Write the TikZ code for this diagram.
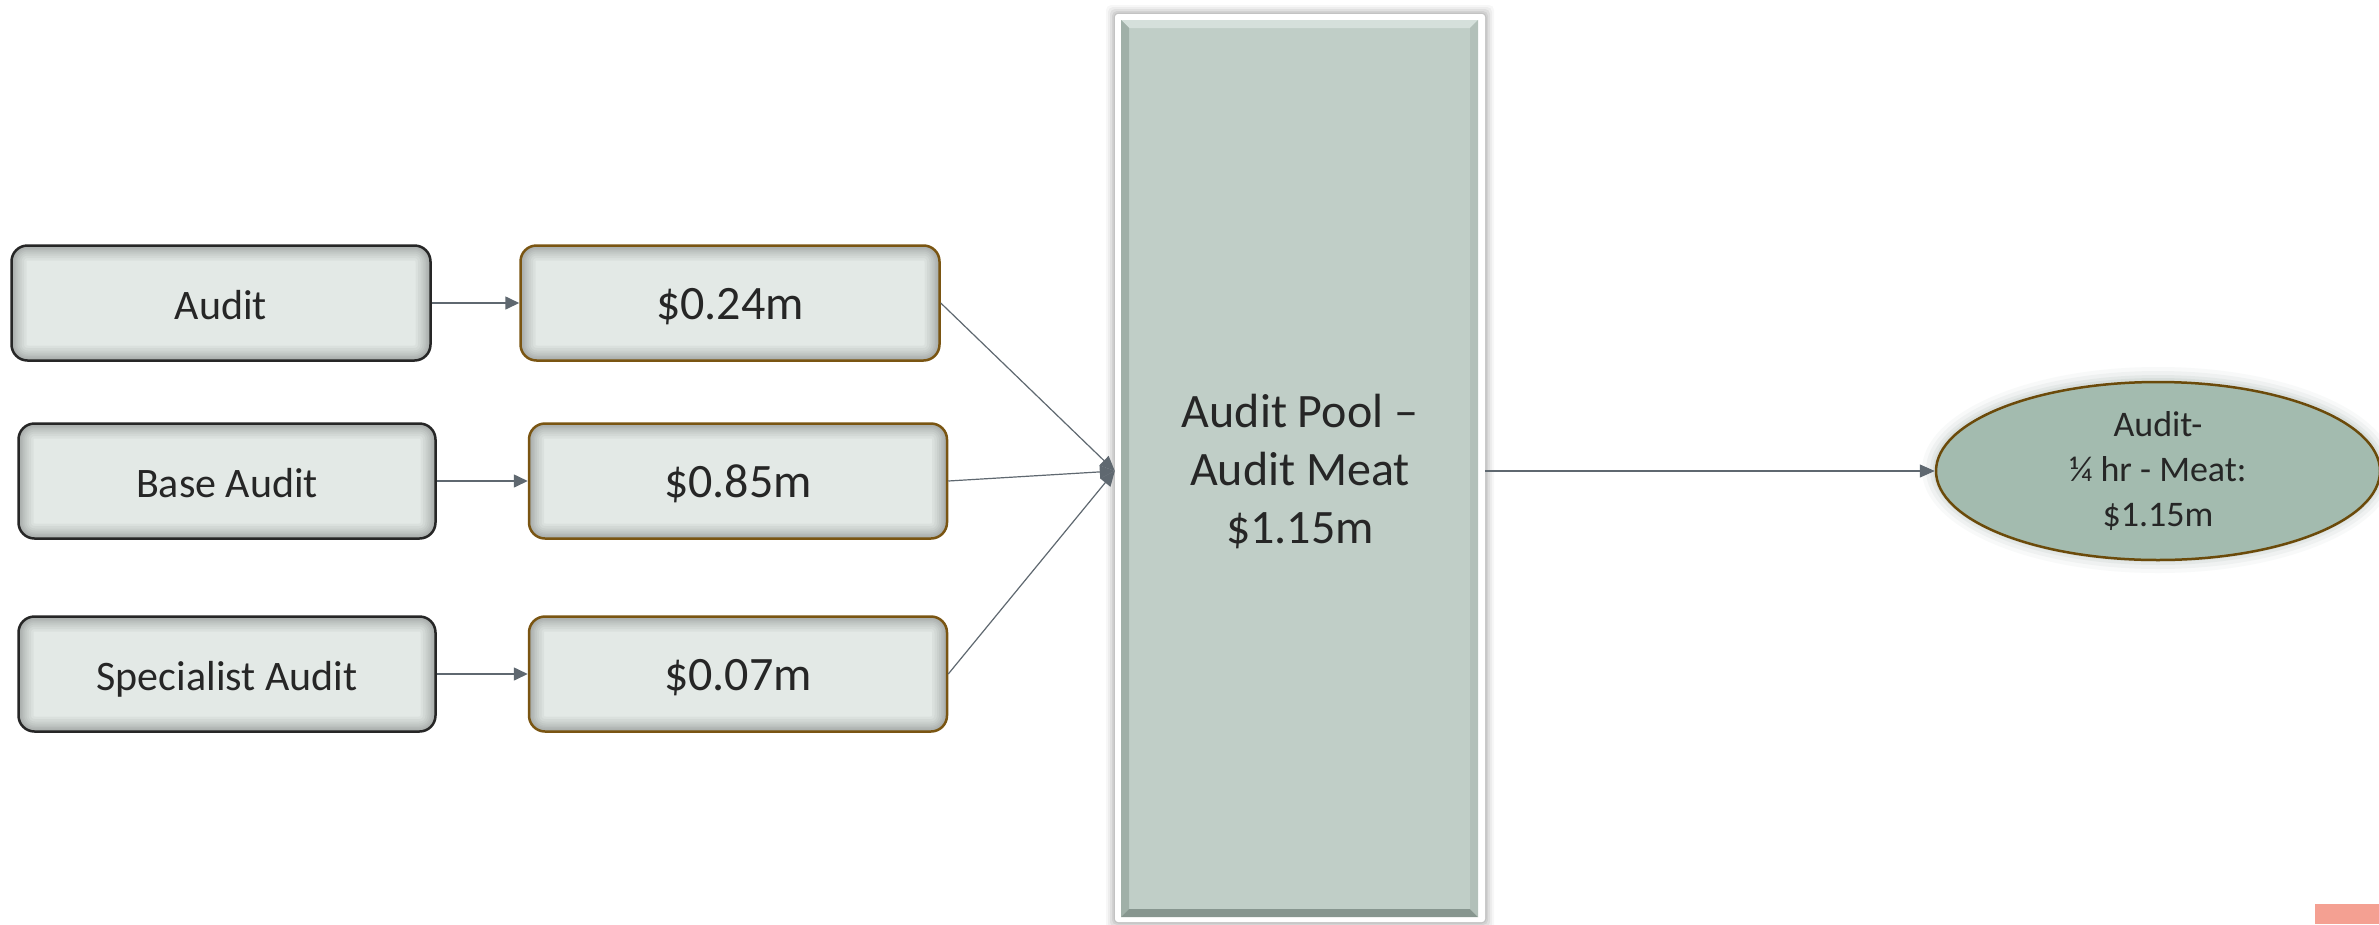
\documentclass[tikz,border=0pt]{standalone}
\usepackage{fontspec}
\setmainfont{Carlito}
\usetikzlibrary{arrows.meta,shapes.geometric}
\definecolor{boxfill}{HTML}{E3E9E6}
\definecolor{brownline}{HTML}{7A5512}
\definecolor{darkline}{HTML}{262626}
\definecolor{arrowgray}{HTML}{5F6870}
\definecolor{poolfill}{HTML}{C0CEC7}
\definecolor{ellfill}{HTML}{A3BBAF}
\definecolor{ellline}{HTML}{6B4A0A}
\definecolor{txt}{HTML}{262626}
\definecolor{pinkfill}{HTML}{F4A092}
\definecolor{glow}{HTML}{7F958A}
\tikzset{
  innershade/.style={path picture={
    \foreach \w in {30,25,20,16,12,9,6,3}{
      \draw[rounded corners=16pt, line width=\w pt, black, opacity=0.035]
        (path picture bounding box.south west) rectangle (path picture bounding box.north east);}
  }},
  srcbox/.style={rounded corners=16pt, fill=boxfill, draw=darkline, line width=2.5pt,
    minimum height=115pt, inner sep=0pt, innershade, text=txt,
    text height=32pt, text depth=0pt,
    font=\fontsize{42}{50}\selectfont},
  valbox/.style={srcbox, draw=brownline, text height=32pt, font=\fontsize{48}{58}\selectfont},
  link/.style={draw=arrowgray, line width=1.6pt, -{Triangle[length=14pt,width=13pt]}},
  feed/.style={draw=arrowgray, line width=1.2pt, -{Triangle[length=15pt,width=13pt]}},
  pooltext/.style={inner sep=0pt, align=center, text=txt, font=\fontsize{48}{58}\selectfont},
  meatnode/.style={ellipse, fill=ellfill, draw=ellline, line width=2.5pt, inner sep=0pt,
    align=center, text=txt, font=\fontsize{36}{45}\selectfont},
}
\begin{document}
\begin{tikzpicture}[x=1pt,y=-1pt]
\useasboundingbox (0,0) rectangle (2379,924);
\fill[white] (0,0) rectangle (2379,924);

% left source boxes
\node[srcbox, minimum width=419pt] (audit) at (221,303) {Audit};
\node[srcbox, minimum width=417pt] (base) at (227,481) {Base Audit};
\node[srcbox, minimum width=417pt] (spec) at (227,674) {Specialist Audit};

% value boxes
\node[valbox, minimum width=419pt] (v1) at (730,303) {\$0.24m};
\node[valbox, minimum width=418pt] (v2) at (738,481) {\$0.85m};
\node[valbox, minimum width=418pt] (v3) at (738,674) {\$0.07m};

% pool block: shadow, white frame, bevelled fill
\foreach \d/\o in {9/0.03,7/0.04,5/0.05,3/0.06,1.5/0.07}{
  \fill[black, opacity=\o, rounded corners=5pt] (1115-\d,14-\d) rectangle (1485+\d,922+\d);
}
\fill[white, rounded corners=3pt] (1115,14) rectangle (1485,922);
\fill[poolfill] (1121,20) rectangle (1478,917);
\fill[fill={rgb,255:red,213;green,224;blue,219}] (1121,20) -- (1478,20) -- (1470,28) -- (1129,28) -- cycle;
\fill[fill={rgb,255:red,160;green,176;blue,168}] (1121,20) -- (1129,28) -- (1129,909) -- (1121,917) -- cycle;
\fill[fill={rgb,255:red,135;green,150;blue,143}] (1121,917) -- (1129,909) -- (1470,909) -- (1478,917) -- cycle;
\fill[fill={rgb,255:red,178;green,192;blue,185}] (1478,20) -- (1470,28) -- (1470,909) -- (1478,917) -- cycle;
\node[pooltext, minimum width=370pt, minimum height=908pt] (pool) at (1300,471) {Audit Pool --\\Audit Meat\\\$1.15m};

% ellipse with glow
\foreach \r/\o in {14/0.05,10/0.07,6/0.09,3/0.11}{
  \fill[glow, opacity=\o] (2158,470) ellipse ({222+\r} and {89+\r});
}
\node[meatnode, minimum width=444pt, minimum height=178pt] (meat) at (2158,471) {Audit-\\¼ hr - Meat:\\\$1.15m};

% pink corner
\fill[pinkfill] (2315,904) rectangle (2379,924);

% connectors
\draw[link] (audit) -- (v1);
\draw[link] (base) -- (v2);
\draw[link] (spec) -- (v3);
\draw[feed] (v1.east) -- (pool.west);
\draw[feed] (v2.east) -- (pool.west);
\draw[feed] (v3.east) -- (pool.west);
\draw[feed] (pool.east) -- (meat.west);
\end{tikzpicture}
\end{document}
